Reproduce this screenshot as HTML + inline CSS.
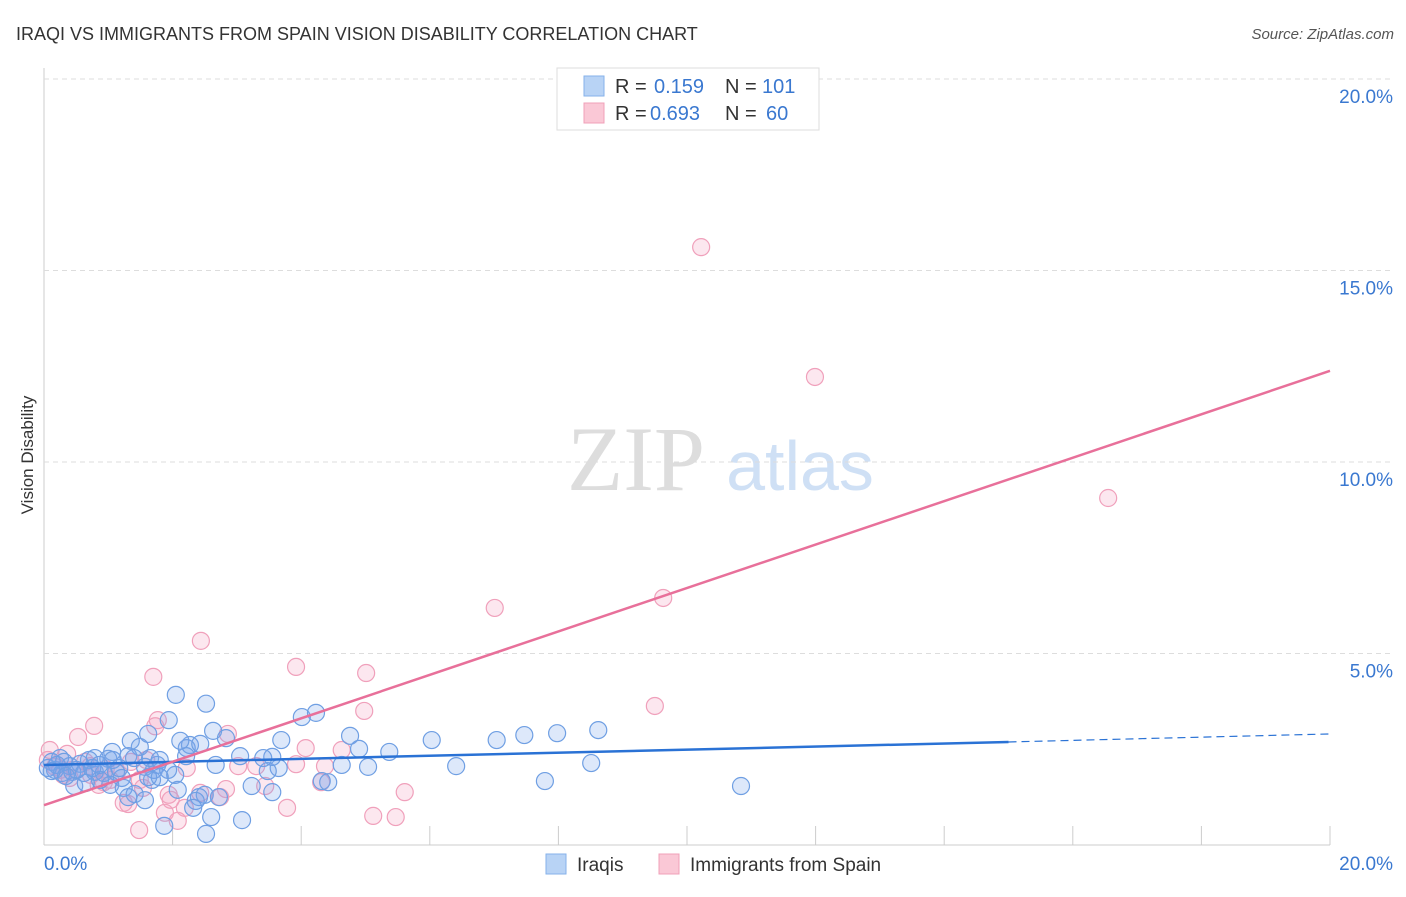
<!DOCTYPE html>
<html><head><meta charset="utf-8">
<style>
body{margin:0;background:#fff;font-family:"Liberation Sans",sans-serif;}
svg text{font-family:"Liberation Sans",sans-serif;}
</style></head>
<body>
<svg id="chart" width="1406" height="892" viewBox="0 0 1406 892" xmlns="http://www.w3.org/2000/svg">
<text x="16" y="40" font-size="18" fill="#333">IRAQI VS IMMIGRANTS FROM SPAIN VISION DISABILITY CORRELATION CHART</text>
<text x="1394" y="39" font-size="15" fill="#555" text-anchor="end" font-style="italic">Source: ZipAtlas.com</text>
<text x="0" y="0" transform="translate(33,455) rotate(-90)" font-size="17" fill="#333" text-anchor="middle">Vision Disability</text>
<g>
<text x="636" y="490" font-size="92" fill="#ddd" text-anchor="middle" font-family="Liberation Serif" style="font-family:'Liberation Serif',serif">ZIP</text>
<text x="800" y="490" font-size="70" fill="#cfe0f5" text-anchor="middle">atlas</text>
</g>
<g id="grid"></g>
<g id="points"></g>
<g id="lines"></g>
<g>
<rect x="557" y="68" width="262" height="62" fill="#fff" stroke="#ddd"/>
<rect x="584" y="76" width="20" height="20" fill="#b8d3f5" stroke="#86b1ea"/>
<rect x="584" y="103" width="20" height="20" fill="#fac8d6" stroke="#f0a0b8"/>
<text x="615" y="93" font-size="20" fill="#333">R = </text><text x="654" y="93" font-size="20" fill="#3a78d0">0.159</text>
<text x="725" y="93" font-size="20" fill="#333">N = </text><text x="762" y="93" font-size="20" fill="#3a78d0">101</text>
<text x="615" y="120" font-size="20" fill="#333">R = </text><text x="650" y="120" font-size="20" fill="#3a78d0">0.693</text>
<text x="725" y="120" font-size="20" fill="#333">N = </text><text x="766" y="120" font-size="20" fill="#3a78d0">60</text>
</g>
<g>
<rect x="546" y="854" width="20" height="20" fill="#b8d3f5" stroke="#86b1ea"/>
<text x="577" y="871" font-size="19" fill="#333">Iraqis</text>
<rect x="659" y="854" width="20" height="20" fill="#fac8d6" stroke="#f0a0b8"/>
<text x="690" y="871" font-size="19" fill="#333">Immigrants from Spain</text>
</g>
</svg>
<script>
const yTicks=[5,10,15,20];
const yTickLabels=["5.0%","10.0%","15.0%","20.0%"];
const xTicks=[0,2,4,6,8,10,12,14,16,18,20];
const iraqiX=[2.52,2.05,1.94,1.62,2.63,2.83,3.69,4.01,4.23,4.76,4.9,5.37,6.03,7.04,7.47,7.98,8.62,8.51,7.79,6.41,5.04,4.63,4.32,4.42,3.65,3.48,3.55,3.41,3.05,2.67,2.22,2.27,2.12,2.43,2.04,2.08,1.68,1.71,1.76,1.57,1.49,1.35,1.31,1.06,1.0,0.79,0.7,0.56,0.4,0.25,0.12,0.17,0.06,0.28,0.44,0.62,0.79,0.93,1.12,1.21,1.03,1.24,1.41,0.47,2.41,2.5,2.36,2.72,2.32,2.6,3.08,1.87,2.52,3.55,3.23,10.84,1.4,1.65,1.62,1.17,0.87,0.65,0.31,0.2,0.51,0.75,1.07,1.8,2.21,1.93,1.57,1.31,1.8,0.86,0.34,0.12];
const iraqiY=[3.69,3.92,3.26,2.9,2.98,2.79,2.74,3.34,3.45,2.85,2.51,2.43,2.74,2.74,2.87,2.92,3.0,2.14,1.67,2.06,2.04,2.09,1.67,1.64,2.01,1.93,2.3,2.27,2.32,2.09,2.53,2.61,2.72,2.64,1.83,1.44,1.7,1.96,2.09,2.04,2.56,2.72,2.32,2.43,2.25,2.27,2.22,2.12,2.06,2.27,2.17,1.96,2.01,1.88,1.91,1.88,1.91,1.88,1.91,1.75,1.57,1.49,1.33,1.54,1.25,1.31,1.15,1.25,0.97,0.73,0.65,0.5,0.29,1.38,1.54,1.54,2.27,2.27,1.77,2.01,1.70,1.62,2.17,2.09,1.96,2.01,2.22,2.22,2.32,1.96,1.17,1.25,1.77,2.09,1.8,1.93];
const spainX=[10.22,11.99,16.55,7.01,9.63,2.44,3.92,5.01,1.7,4.98,9.5,0.53,0.78,1.77,1.73,2.86,4.07,4.63,2.22,3.02,3.3,3.92,4.37,4.31,1.35,1.49,0.96,0.73,0.3,0.06,0.09,0.36,0.64,0.93,1.13,1.54,1.24,1.97,2.19,2.83,2.74,3.44,3.78,5.12,5.47,5.61,1.88,2.08,1.48,1.31,0.25,0.48,0.85,1.03,1.59,0.72,0.17,0.4,2.43,1.94];
const spainY=[15.61,12.22,9.06,6.19,6.45,5.33,4.65,4.49,4.39,3.5,3.63,2.82,3.11,3.26,3.1,2.9,2.53,2.48,2.01,2.06,2.06,2.11,2.06,1.64,2.17,1.7,1.98,1.83,1.83,2.22,2.48,2.38,2.17,1.64,1.88,1.49,1.1,1.18,0.97,1.46,1.25,1.54,0.97,0.76,0.73,1.38,0.84,0.63,0.39,1.07,1.96,1.96,1.57,1.7,2.22,2.06,2.04,1.75,1.36,1.31];
const blueLine=[0,2.09,15,2.69,20,2.9];
const pinkLine=[0,1.04,20,12.38];
const NS="http://www.w3.org/2000/svg";
const X=v=>44+v*64.3, Y=v=>845-v*38.3;
function mk(t,a,p){const e=document.createElementNS(NS,t);for(const k in a)e.setAttribute(k,a[k]);p.appendChild(e);return e;}
const grid=document.getElementById('grid');
mk('line',{x1:44,y1:68,x2:44,y2:845,stroke:'#ccc'},grid);
mk('line',{x1:44,y1:845,x2:1330,y2:845,stroke:'#ccc'},grid);
yTicks.forEach((t,i)=>{const l=mk('line',{x1:44,y1:Y(t),x2:1394,y2:Y(t),stroke:'#ddd','stroke-dasharray':'5,4'},grid);


const tx=mk('text',{x:1393,y:Y(t)+24,'font-size':19,fill:'#3a78d0','text-anchor':'end'},grid);tx.textContent=yTickLabels[i];

});
xTicks.forEach(t=>{const l=mk('line',{x1:X(t),y1:826,x2:X(t),y2:845,stroke:'#ccc'},grid);

});
const xl0=mk('text',{x:44,y:870,'font-size':19,fill:'#3a78d0'},grid);xl0.textContent='0.0%';


const xl1=mk('text',{x:1393,y:870,'font-size':19,fill:'#3a78d0','text-anchor':'end'},grid);xl1.textContent='20.0%';


const pts=document.getElementById('points');
spainX.forEach((v,i)=>{const c=mk('circle',{cx:X(v),cy:Y(spainY[i]),r:8.5,fill:'rgba(245,160,190,0.25)',stroke:'#f0a0bb','stroke-width':1.2},pts);

});
iraqiX.forEach((v,i)=>{const c=mk('circle',{cx:X(v),cy:Y(iraqiY[i]),r:8.5,fill:'rgba(120,165,235,0.25)',stroke:'#6f9fe3','stroke-width':1.2},pts);

});
const ln=document.getElementById('lines');
const b1=mk('line',{x1:X(blueLine[0]),y1:Y(blueLine[1]),x2:X(blueLine[2]),y2:Y(blueLine[3]),stroke:'#2a72d5','stroke-width':2.5},ln);


const b2=mk('line',{x1:X(blueLine[2]),y1:Y(blueLine[3]),x2:X(blueLine[4]),y2:Y(blueLine[5]),stroke:'#2a72d5','stroke-width':1.2,'stroke-dasharray':'8,5'},ln);


const p1=mk('line',{x1:X(pinkLine[0]),y1:Y(pinkLine[1]),x2:X(pinkLine[2]),y2:Y(pinkLine[3]),stroke:'#e8709a','stroke-width':2.5},ln);


</script>
</body></html>
